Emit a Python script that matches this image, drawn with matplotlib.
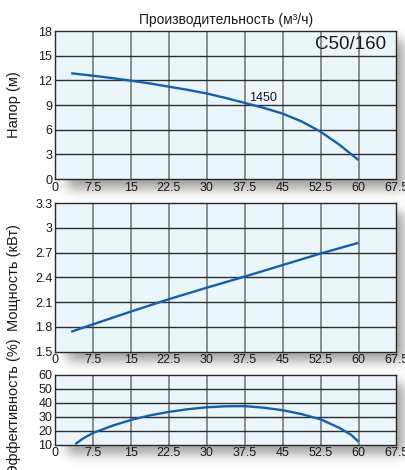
import numpy as np
import matplotlib
matplotlib.use("Agg")
import matplotlib.pyplot as plt
from matplotlib.ticker import FixedLocator, FixedFormatter

# ---- data -------------------------------------------------------------
flow_ticks = [0, 7.5, 15, 22.5, 30, 37.5, 45, 52.5, 60, 67.5]
flow_tick_labels = ["0", "7.5", "15", "22.5", "30", "37.5", "45", "52.5", "60", "67.5"]

head_q = [3.2, 7.5, 11.25, 15, 18.75, 22.5, 26.25, 30, 33.75, 37.5, 41.25, 45,
          48.75, 52.5, 56.25, 60]
head_h = [12.86, 12.56, 12.28, 11.96, 11.62, 11.23, 10.84, 10.4, 9.85, 9.25,
          8.65, 7.95, 7.0, 5.75, 4.15, 2.3]

power_q = [3.2, 7.5, 15, 22.5, 30, 37.5, 45, 52.5, 60]
power_kw = [1.74, 1.83, 1.985, 2.135, 2.275, 2.41, 2.55, 2.69, 2.82]

eff_q = [4.0, 5.6, 7.5, 11.25, 15, 18.75, 22.5, 26.25, 30, 33.75, 37.5, 41.25,
         45, 48.75, 52.5, 56.25, 58.5, 60]
eff_pct = [10.3, 14.4, 18.2, 23.3, 27.5, 30.8, 33.3, 35.2, 36.6, 37.3, 37.4, 36.3,
           34.5, 31.7, 28.0, 21.8, 17.0, 12.0]

head_ticks = [0, 3, 6, 9, 12, 15, 18]
power_ticks = [1.5, 1.8, 2.1, 2.4, 2.7, 3.0, 3.3]
power_tick_labels = ["1.5", "1.8", "2.1", "2.4", "2.7", "3", "3.3"]
eff_ticks = [10, 20, 30, 40, 50, 60]

title_text = "Производительность (м³/ч)"
model_text = "C50/160"
speed_text = "1450"

# ---- style ------------------------------------------------------------
plt.rcParams["font.family"] = ["Liberation Sans", "DejaVu Sans"]
W, H = 406, 470
DPI = 100
face = "#eaf5fc"
curve_color = "#1560aa"
hgrid = "#2e2e2e"
vgrid = "#6f6f6f"

fig = plt.figure(figsize=(W / DPI, H / DPI), dpi=DPI)

# panel rectangles in pixels: (left, top, right, bottom)
panels_px = [(55, 31, 396.5, 179), (55, 203.3, 396.5, 351.5), (55, 374.5, 396.5, 444.5)]

# soft drop shadow behind the panels
mask = np.zeros((H, W))
for (l, t, r, b) in panels_px:
    mask[int(t + 9):int(b + 10), int(l + 12):int(r + 8)] = 1.0
sig = 6.0
k = np.arange(-20, 21)
kern = np.exp(-0.5 * (k / sig) ** 2)
kern /= kern.sum()
blur = np.apply_along_axis(lambda v: np.convolve(v, kern, mode="same"), 0, mask)
blur = np.apply_along_axis(lambda v: np.convolve(v, kern, mode="same"), 1, blur)
shadow = np.zeros((H, W, 4))
shadow[..., 3] = 0.38 * blur
fig.figimage(shadow, xo=0, yo=0, origin="upper", zorder=-1)


def make_axes(px):
    l, t, r, b = px
    return fig.add_axes([l / W, (H - b) / H, (r - l) / W, (b - t) / H])


def style(ax, yticks, ylabels, ylim, ylabel, label_y=0.5):
    ax.set_facecolor(face)
    ax.set_xlim(0, 67.5)
    ax.set_ylim(*ylim)
    ax.xaxis.set_major_locator(FixedLocator(flow_ticks))
    ax.xaxis.set_major_formatter(FixedFormatter(flow_tick_labels))
    ax.yaxis.set_major_locator(FixedLocator(yticks))
    ax.yaxis.set_major_formatter(FixedFormatter(ylabels))
    ax.tick_params(length=0, labelsize=9, pad=2, colors="#1a1a1a")
    for x in flow_ticks[1:-1]:
        ax.axvline(x, color=vgrid, lw=1.1, zorder=1)
    for y in yticks[1:-1]:
        ax.axhline(y, color=hgrid, lw=1.0, zorder=1)
    for s in ax.spines.values():
        s.set_color("#2a2a2a")
        s.set_linewidth(1.0)
    ax.set_ylabel(ylabel, fontsize=10.5, color="#1a1a1a", va="center")
    ax.yaxis.set_label_coords(-41 / 341.5, label_y)


ax1 = make_axes(panels_px[0])
style(ax1, head_ticks, [str(v) for v in head_ticks], (0, 18), "Напор (м)")
ax1.plot(head_q, head_h, color=curve_color, lw=1.7, zorder=3, solid_capstyle="butt")
ax1.text(41.2, 9.9, speed_text, fontsize=9, ha="center", va="center", color="#1a1a1a")
ax1.text(58.5, 16.3, model_text, fontsize=13.5, ha="center", va="center", color="#1a1a1a")
ax1.set_title(title_text, fontsize=10, pad=5, color="#1a1a1a")

ax2 = make_axes(panels_px[1])
style(ax2, power_ticks, power_tick_labels, (1.5, 3.3), "Мощность (кВт)")
ax2.plot(power_q, power_kw, color=curve_color, lw=1.7, zorder=3, solid_capstyle="butt")

ax3 = make_axes(panels_px[2])
style(ax3, eff_ticks, [str(v) for v in eff_ticks], (10, 60), "Эффективность (%)",
      label_y=0.5 + 3 / 70)
ax3.plot(eff_q, eff_pct, color=curve_color, lw=1.7, zorder=3, solid_capstyle="butt")

fig.savefig("out.png", dpi=DPI)
